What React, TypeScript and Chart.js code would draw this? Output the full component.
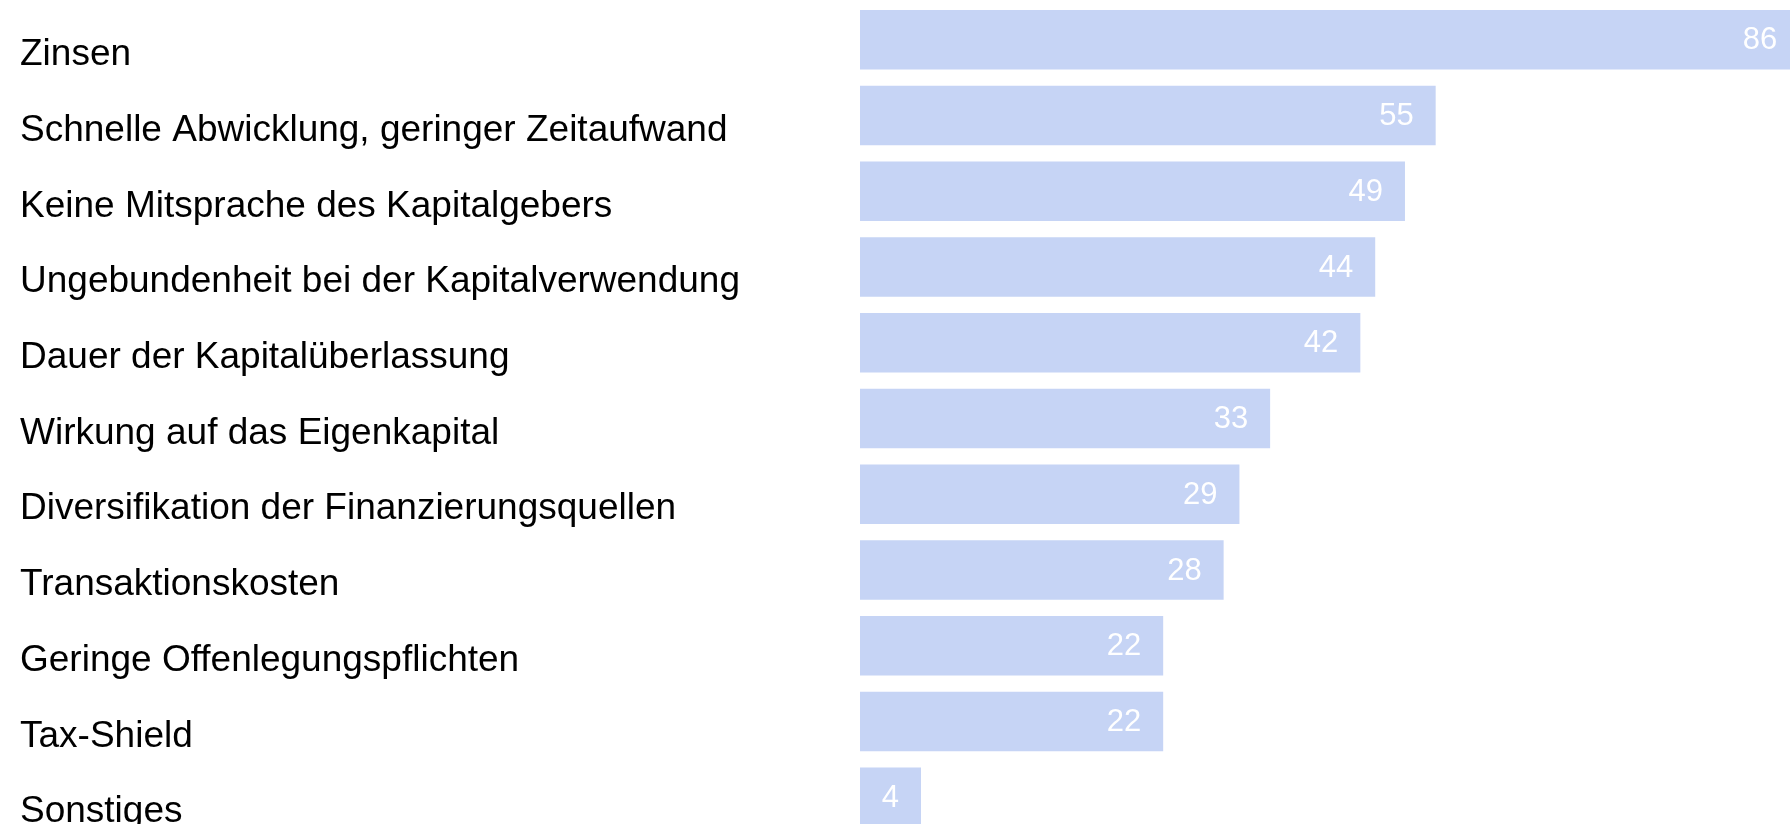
import React, { useEffect, useRef } from "react";
import { Chart, registerables } from "chart.js";

Chart.register(...registerables);

// Category labels (top to bottom)
const categories = [
  "Zinsen",
  "Schnelle Abwicklung, geringer Zeitaufwand",
  "Keine Mitsprache des Kapitalgebers",
  "Ungebundenheit bei der Kapitalverwendung",
  "Dauer der Kapitalüberlassung",
  "Wirkung auf das Eigenkapital",
  "Diversifikation der Finanzierungsquellen",
  "Transaktionskosten",
  "Geringe Offenlegungspflichten",
  "Tax-Shield",
  "Sonstiges",
];

// Numbers printed inside the bars
const shownValues = [86, 55, 49, 44, 42, 33, 29, 28, 22, 22, 4];

// Bar lengths as drawn in the picture (on a 0–100 axis)
const barLengths = [101.0, 61.9, 58.6, 55.4, 53.8, 44.1, 40.8, 39.1, 32.6, 32.6, 6.56];

const axisMin = 0;
const axisMax = 100;

const FONT = '"Liberation Sans", Arial, Helvetica, sans-serif';
const BAR_COLOR = "#c6d4f5";

const valueLabels = {
  id: "valueLabels",
  afterDatasetsDraw(chart: any) {
    const ctx = chart.ctx;
    const meta = chart.getDatasetMeta(0);
    ctx.save();
    ctx.font = `31px ${FONT}`;
    ctx.fillStyle = "#ffffff";
    ctx.textAlign = "right";
    ctx.textBaseline = "middle";
    meta.data.forEach((bar: any, i: number) => {
      ctx.fillText(String(shownValues[i]), bar.x - 22, bar.y + 1);
    });
    ctx.restore();
  },
};

export default function App() {
  const canvasRef = useRef<HTMLCanvasElement | null>(null);

  useEffect(() => {
    if (!canvasRef.current) return;
    const chart = new Chart(canvasRef.current, {
      type: "bar",
      data: {
        labels: categories,
        datasets: [
          {
            data: barLengths,
            backgroundColor: BAR_COLOR,
            borderWidth: 0,
            barPercentage: 1,
            categoryPercentage: 0.786,
          },
        ],
      },
      options: {
        indexAxis: "y",
        responsive: false,
        animation: false,
        layout: { padding: { left: 20, right: 0, top: 0, bottom: 0 } },
        plugins: {
          legend: { display: false },
          tooltip: { enabled: false },
        },
        scales: {
          x: {
            display: false,
            min: axisMin,
            max: axisMax,
          },
          y: {
            type: "category",
            grid: { display: false },
            border: { display: false },
            ticks: {
              color: "#000000",
              font: { family: FONT, size: 37 },
              crossAlign: "far",
              labelOffset: 15,
              padding: 0,
              autoSkip: false,
            },
            afterFit(axis: any) {
              axis.width = 840;
              axis.paddingTop = 0;
              axis.paddingBottom = 0;
            },
          },
        },
      },
      plugins: [valueLabels],
    });
    return () => chart.destroy();
  }, []);

  return (
    <div
      style={{
        position: "fixed",
        left: 0,
        top: 0,
        width: 1790,
        height: 824,
        overflow: "hidden",
        background: "#ffffff",
      }}
    >
      <div style={{ position: "absolute", left: 0, top: 2, width: 1790, height: 833 }}>
        <canvas ref={canvasRef} width={1790} height={833} style={{ display: "block" }} />
      </div>
    </div>
  );
}
